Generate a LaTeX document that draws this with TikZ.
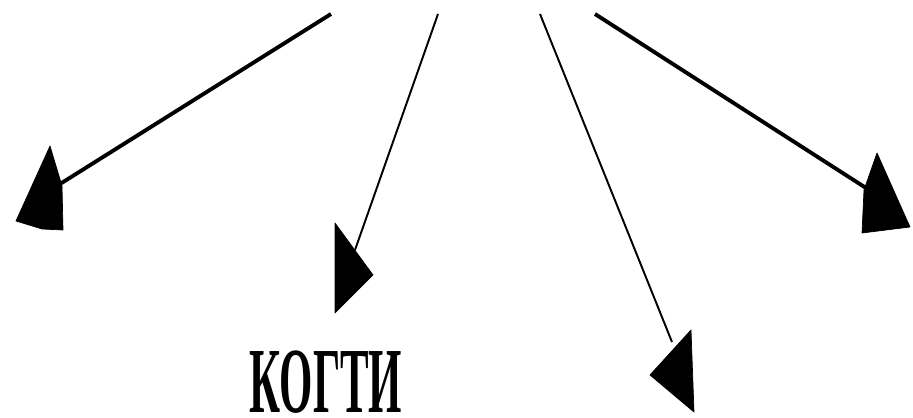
\documentclass[tikz,border=0pt]{standalone}
\usepackage{fontspec}
\setmainfont{Liberation Serif}
\usepackage{tikz}
\tikzset{
  shaft/.style={line width=#1,black},
  shaft/.default=2.2pt,
  head/.style={fill=black,draw=black,line width=0.4pt,line join=round},
  wordlabel/.style={inner sep=0pt,anchor=base,font=\fontsize{53}{53}\selectfont\bfseries}
}
\begin{document}
\begin{tikzpicture}[x=0.02cm,y=-0.02cm]
\useasboundingbox (0,0) rectangle (913,418);
% start and end points of the four shafts
\coordinate (s1) at (331,14);  \coordinate (e1) at (60,184);
\coordinate (s2) at (438,14);  \coordinate (e2) at (355,250);
\coordinate (s3) at (540,14);  \coordinate (e3) at (672,342);
\coordinate (s4) at (595,14);  \coordinate (e4) at (866,188);
\draw[shaft] (s1) -- (e1);
\draw[shaft=1.1pt] (s2) -- (e2);
\draw[shaft=1.1pt] (s3) -- (e3);
\draw[shaft] (s4) -- (e4);
% arrow heads
\fill[head] (50,146) -- (16,221) -- (42,229) -- (63,230) -- (62,186) -- cycle;
\fill[head] (335,223) -- (373,275) -- (335,313) -- cycle;
\fill[head] (691,330) -- (650,375) -- (694,412) -- cycle;
\fill[head] (877,153) -- (910,227) -- (862,233) -- (864,190) -- cycle;
\node[wordlabel] (kogti) at (326,413) {\scalebox{0.46}[1]{КОГТИ}};
\end{tikzpicture}
\end{document}
